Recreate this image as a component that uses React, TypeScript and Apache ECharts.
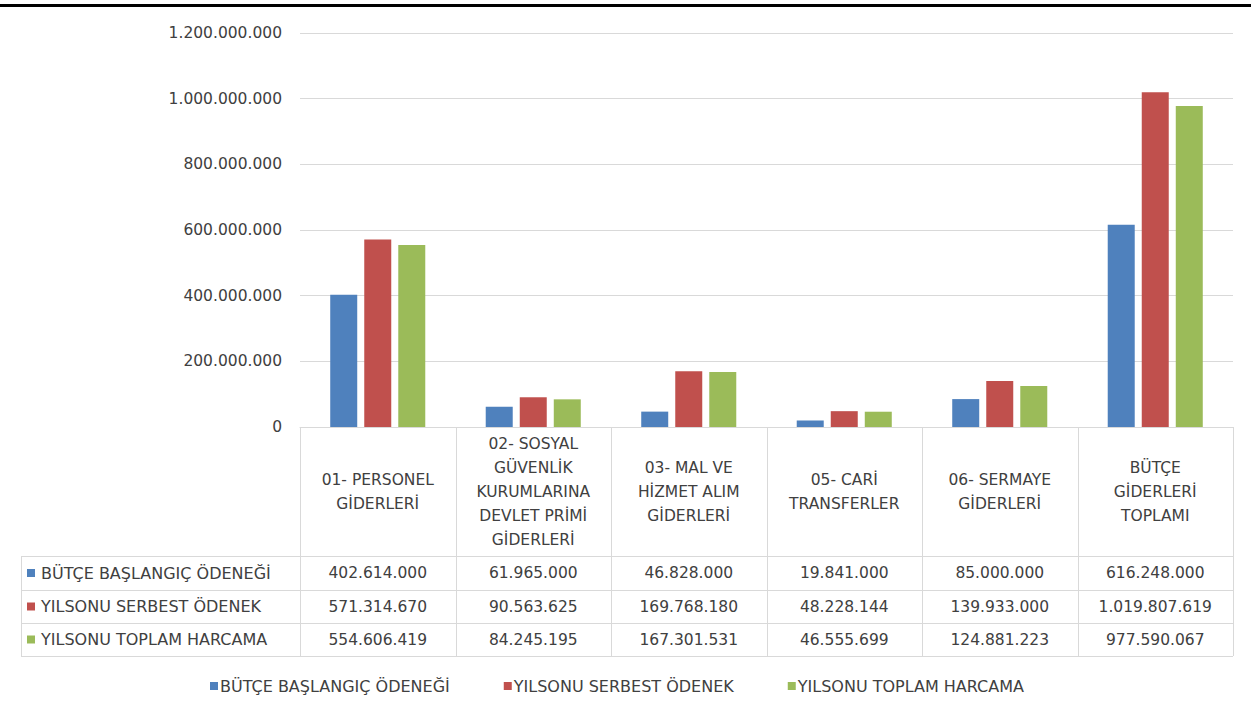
import React, { useEffect, useRef } from "react";
import * as echarts from "echarts";

const categories = [
  "01- PERSONEL\nGİDERLERİ",
  "02- SOSYAL\nGÜVENLİK\nKURUMLARINA\nDEVLET PRİMİ\nGİDERLERİ",
  "03- MAL VE\nHİZMET ALIM\nGİDERLERİ",
  "05- CARİ\nTRANSFERLER",
  "06- SERMAYE\nGİDERLERİ",
  "BÜTÇE\nGİDERLERİ\nTOPLAMI",
];
const seriesNames = ["BÜTÇE BAŞLANGIÇ ÖDENEĞİ", "YILSONU SERBEST ÖDENEK", "YILSONU TOPLAM HARCAMA"];
const butceBaslangic = [402614000, 61965000, 46828000, 19841000, 85000000, 616248000];
const yilsonuSerbest = [571314670, 90563625, 169768180, 48228144, 139933000, 1019807619];
const yilsonuToplam = [554606419, 84245195, 167301531, 46555699, 124881223, 977590067];
const seriesValues = [butceBaslangic, yilsonuSerbest, yilsonuToplam];
const colors = ["#4F81BD", "#C0504D", "#9BBB59"];
const yMax = 1200000000;
const yStep = 200000000;

const fmt = (v: number) => String(Math.round(v)).replace(/\B(?=(\d{3})+(?!\d))/g, ".");

export default function App() {
  const ref = useRef<HTMLDivElement>(null);
  useEffect(() => {
    document.body.style.margin = "0";
    if (!ref.current) return;
    const chart = echarts.init(ref.current, null, { renderer: "svg" });
    const font = "DejaVu Sans";
    const txt = "#404040";
    const border = "#D9D9D9";
    const gL = 300, gR = 1233, gT = 33, gB = 427;
    const tableLeft = 21;
    const rowTops = [556, 590, 623, 656];
    const n = categories.length;
    const colW = (gR - gL) / n;
    const g: any[] = [];
    g.push({ type: "rect", shape: { x: 0, y: 4, width: 1251, height: 3 }, style: { fill: "#000" } });
    for (let i = 0; i <= n; i++) {
      const x = Math.round(gL + i * colW) + 0.5;
      g.push({ type: "line", shape: { x1: x, y1: gB, x2: x, y2: rowTops[3] }, style: { stroke: border, lineWidth: 1 } });
    }
    g.push({ type: "line", shape: { x1: tableLeft + 0.5, y1: rowTops[0], x2: tableLeft + 0.5, y2: rowTops[3] }, style: { stroke: border, lineWidth: 1 } });
    rowTops.forEach((y) => {
      g.push({ type: "line", shape: { x1: tableLeft, y1: y + 0.5, x2: gR, y2: y + 0.5 }, style: { stroke: border, lineWidth: 1 } });
    });
    categories.forEach((c, i) => {
      g.push({
        type: "text",
        x: gL + (i + 0.5) * colW,
        y: (gB + rowTops[0]) / 2,
        style: { text: c, fontFamily: font, fontSize: 15.5, fill: txt, align: "center", verticalAlign: "middle", lineHeight: 24 },
      });
    });
    seriesNames.forEach((s, r) => {
      const cy = (rowTops[r] + rowTops[r + 1]) / 2;
      g.push({ type: "rect", shape: { x: 27, y: cy - 4, width: 8, height: 8 }, style: { fill: colors[r] } });
      g.push({ type: "text", x: 41, y: cy, style: { text: s, fontFamily: font, fontSize: 16, fill: txt, align: "left", verticalAlign: "middle" } });
      seriesValues[r].forEach((v, i) => {
        g.push({
          type: "text",
          x: gL + (i + 0.5) * colW,
          y: cy,
          style: { text: fmt(v), fontFamily: font, fontSize: 15.5, fill: txt, align: "center", verticalAlign: "middle" },
        });
      });
    });

    chart.setOption({
      animation: false,
      textStyle: { fontFamily: font },
      grid: { left: gL, right: 1251 - gR, top: gT, bottom: 720 - gB, containLabel: false },
      legend: {
        bottom: 21,
        left: 205,
        icon: "rect",
        itemWidth: 8,
        itemHeight: 8,
        itemGap: 54,
        textStyle: { fontFamily: font, fontSize: 16, color: txt, padding: [0, 0, 0, -3] },
        data: seriesNames,
      },
      xAxis: {
        type: "category",
        data: categories,
        axisLabel: { show: false },
        axisTick: { show: false },
        axisLine: { show: true, lineStyle: { color: border } },
      },
      yAxis: {
        type: "value",
        min: 0,
        max: yMax,
        interval: yStep,
        axisLabel: { formatter: (v: number) => fmt(v), fontFamily: font, fontSize: 15.5, color: txt, margin: 18 },
        axisLine: { show: false },
        axisTick: { show: false },
        splitLine: { lineStyle: { color: border } },
      },
      series: seriesNames.map((s, r) => ({
        name: s,
        type: "bar",
        data: seriesValues[r],
        barWidth: 27,
        barGap: "26%",
        itemStyle: { color: colors[r] },
      })),
      graphic: g,
    });
    return () => chart.dispose();
  }, []);
  return <div ref={ref} style={{ width: 1251, height: 720 }} />;
}
